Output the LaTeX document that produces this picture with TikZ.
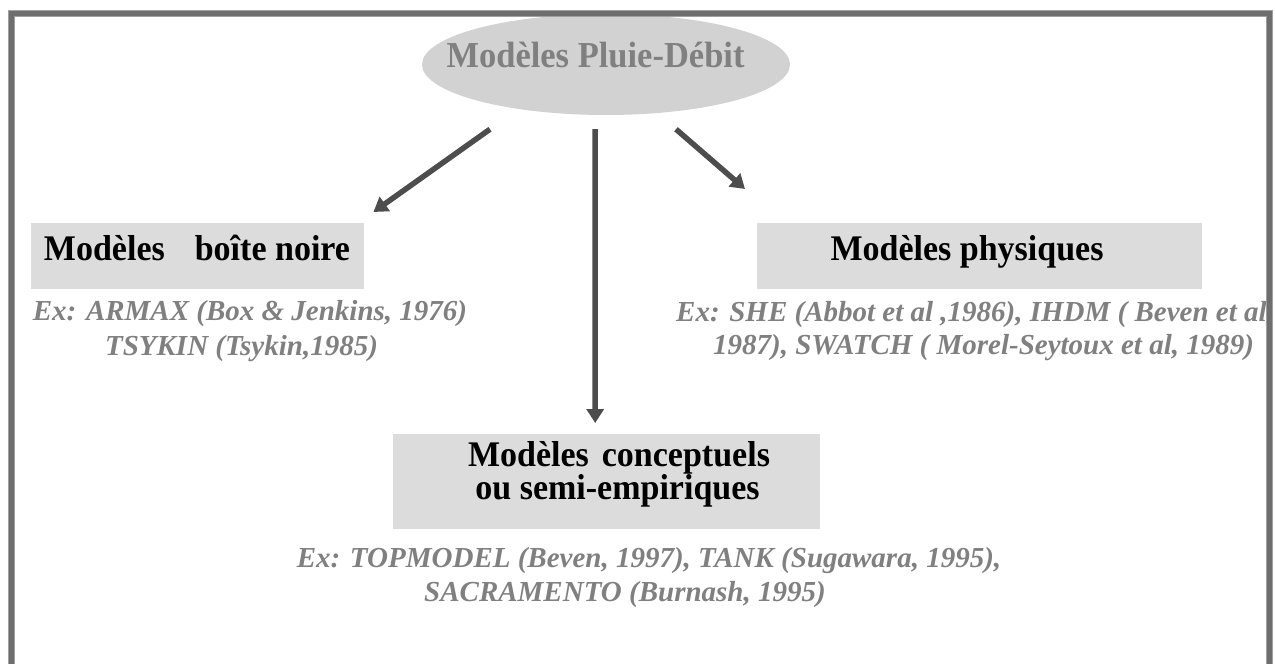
\documentclass[tikz,border=0pt]{standalone}
\usepackage{fontspec}
\usepackage{graphicx}
\setmainfont{Liberation Serif}
\usetikzlibrary{arrows.meta,shapes.geometric}
\definecolor{framec}{HTML}{6E6E6E}
\definecolor{framelt}{HTML}{A0A0A0}
\definecolor{boxc}{HTML}{DCDCDC}
\definecolor{ellc}{HTML}{D2D2D2}
\definecolor{exc}{HTML}{808080}
\definecolor{arrc}{HTML}{4D4D4D}
\newcommand{\tallt}[1]{\scalebox{1}[1.06]{#1}}
\tikzset{
  box/.style={fill=boxc, draw=none, inner sep=0pt, anchor=north west},
  title/.style={font=\fontsize{34}{40}\selectfont\bfseries, text=black, inner sep=0pt, anchor=base},
  extext/.style={font=\fontsize{29}{35}\selectfont\bfseries\itshape, text=exc, inner sep=0pt},
  arr/.style={draw=arrc, line width=5.5pt, -{Triangle[length=14pt,width=17pt]}},
}
\begin{document}
\begin{tikzpicture}[x=1pt,y=-1pt]
\useasboundingbox (0,0) rectangle (1275,664);
\clip (0,0) rectangle (1275,664);
\fill[white] (0,0) rectangle (1275,664);

% top ellipse
\node[ellipse, fill=ellc, draw=none, minimum width=368pt, minimum height=101pt, inner sep=0pt] (pd) at (606,64.5) {};
\node[font=\fontsize{34.5}{40}\selectfont\bfseries, text=exc, inner sep=0pt, anchor=base] (pdt) at (595.5,67) {\tallt{Modèles Pluie-Débit}};

% boxes
\node[box, minimum width=333pt, minimum height=66pt] (bn) at (31,223) {};
\node[title] (bnt) at (197,260) {\tallt{Modèles\hspace{30pt}boîte noire}};
\node[box, minimum width=445pt, minimum height=66pt] (ph) at (757,223) {};
\node[title] (pht) at (967,260) {\tallt{Modèles physiques}};
\node[box, minimum width=427pt, minimum height=95pt] (cb) at (393,434) {};
\node[title] (cbt1) at (619,466) {\tallt{Modèles\hspace{13pt}conceptuels}};
\node[title] (cbt2) at (617.5,499) {\tallt{ou semi-empiriques}};

% example texts
\node[extext, anchor=base] (bnx1) at (250,320) {Ex: ARMAX (Box \& Jenkins, 1976)};
\node[extext, anchor=base] (bnx2) at (241.5,355) {TSYKIN (Tsykin,1985)};
\node[extext, anchor=base west] (phx1) at (676,321) {Ex: SHE (Abbot et al ,1986), IHDM ( Beven et al,};
\node[extext, anchor=base west] (phx2) at (713,354) {1987), SWATCH ( Morel-Seytoux et al, 1989)};
\node[extext, anchor=base] (cbx1) at (649,567) {Ex: TOPMODEL (Beven, 1997), TANK (Sugawara, 1995),};
\node[extext, anchor=base] (cbx2) at (625,601) {SACRAMENTO (Burnash, 1995)};

% arrows
\draw[arr] ([xshift=-116pt,yshift=-14pt]pd.south) -- ([xshift=9pt,yshift=11pt]bn.north east);
\draw[arr] ([xshift=-11pt,yshift=-14pt]pd.south) -- ([xshift=-11.5pt,yshift=11pt]cb.north);
\draw[arr] ([xshift=70pt,yshift=-14pt]pd.south) -- ([xshift=-12pt,yshift=34pt]ph.north west);

% frame
\draw[framelt, line width=7pt] (11,700) -- (11,13) -- (1269.5,13) -- (1269.5,700);
\draw[framec, line width=5.5pt] (11.3,700) -- (11.3,13.5) -- (1269.3,13.5) -- (1269.3,700);
\end{tikzpicture}
\end{document}
